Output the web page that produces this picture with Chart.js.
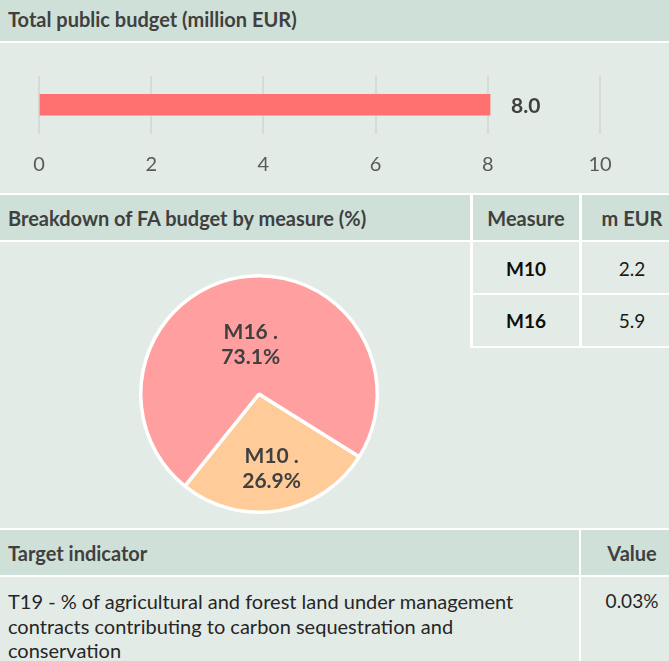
<!DOCTYPE html>
<html>
<head>
<meta charset="utf-8">
<script src="https://cdn.jsdelivr.net/npm/chart.js@4.4.0/dist/chart.umd.min.js"></script>
<style>
  body { margin: 0; width: 669px; height: 661px; overflow: hidden; background: #fff; position: relative; font-family: Lato, sans-serif; }
  .box { position: absolute; box-sizing: border-box; }
  .head { background: #cfe0d8; color: #404040; font-weight: bold; font-size: 20px; display: flex; align-items: center; }
  .panel { background: #e3ebe7; }
  .line { position: absolute; background: #fff; }
  .cell { position: absolute; display: flex; align-items: center; justify-content: center; font-size: 19px; color: #1a1a1a; }
  .left { padding-left: 8px; }
  .mid { justify-content: center; }
  canvas { position: absolute; }
</style>
</head>
<body>

<div class="box head left" style="left:0;top:0;width:669px;height:41px;padding-bottom:3px">Total public budget (million EUR)</div>
<div class="box panel" style="left:0;top:43px;width:669px;height:150px"></div>
<canvas id="budgetChart" width="669" height="150" style="left:0;top:43px;width:669px;height:150px"></canvas>

<div class="box head left" style="left:0;top:195px;width:470px;height:45px">Breakdown of FA budget by measure (%)</div>
<div class="box head mid" style="left:473px;top:195px;width:106px;height:45px">Measure</div>
<div class="box head mid" style="left:582px;top:195px;width:100px;height:45px">m EUR</div>
<div class="box panel" style="left:0;top:242px;width:669px;height:286px"></div>
<div id="measureTable"></div>
<canvas id="measureChart" width="250" height="250" style="left:134px;top:269px;width:250px;height:250px"></canvas>

<div class="box head left" style="left:0;top:530px;width:579px;height:45px">Target indicator</div>
<div class="box head mid" style="left:581px;top:530px;width:102px;height:45px">Value</div>
<div class="box panel" style="left:0;top:577px;width:669px;height:84px"></div>
<div class="line" style="left:579px;top:577px;width:2px;height:84px"></div>
<div id="indicatorText" class="box" style="left:8px;top:589px;width:570px;font-size:20px;line-height:24.5px;color:#262626"></div>
<div id="indicatorValue" class="box" style="left:582px;top:589px;width:100px;font-size:19px;line-height:24.5px;color:#262626;text-align:center"></div>

<script>
// values
const totalLabel = ['Total'];
const totalBudget = [8.04];
const axisTicks = [0, 2, 4, 6, 8, 10];

const measures = ['M10', 'M16'];
const measureShare = [26.9, 73.1];
const measureMeur = [2.2, 5.9];
const measureColors = ['#ffcc99', '#ff9f9f'];

const indicatorLines = [
  'T19 - % of agricultural and forest land under management',
  'contracts contributing to carbon sequestration and',
  'conservation'
];
const indicatorValue = '0.03%';

// small table next to the pie
const table = document.getElementById('measureTable');
const rowTops = [243, 295];
let html = '';
measures.forEach((m, i) => {
  html += '<div class="cell" style="left:473px;top:' + rowTops[i] + 'px;width:106px;height:50px;font-weight:bold;color:#0d0d0d">' + m + '</div>';
  html += '<div class="cell" style="left:582px;top:' + rowTops[i] + 'px;width:100px;height:50px">' + measureMeur[i].toFixed(1) + '</div>';
});
html += '<div class="line" style="left:470px;top:242px;width:3px;height:106px"></div>';
html += '<div class="line" style="left:579px;top:242px;width:3px;height:106px"></div>';
html += '<div class="line" style="left:470px;top:293px;width:199px;height:2px"></div>';
html += '<div class="line" style="left:470px;top:346px;width:199px;height:2px"></div>';
table.innerHTML = html;

document.getElementById('indicatorText').innerHTML = indicatorLines.join('<br>');
document.getElementById('indicatorValue').textContent = indicatorValue;

// value at the end of the bar
const barValueLabel = {
  id: 'barValueLabel',
  afterDatasetsDraw(chart) {
    const ctx = chart.ctx;
    ctx.save();
    ctx.font = 'bold 21px Lato';
    ctx.fillStyle = '#404040';
    ctx.textAlign = 'left';
    ctx.textBaseline = 'middle';
    chart.getDatasetMeta(0).data.forEach((bar, i) => {
      ctx.fillText(totalBudget[i].toFixed(1), bar.x + 21, bar.y + 1);
    });
    ctx.restore();
  }
};

new Chart(document.getElementById('budgetChart'), {
  type: 'bar',
  data: {
    labels: totalLabel,
    datasets: [{
      data: totalBudget,
      backgroundColor: '#ff7070',
      barThickness: 21
    }]
  },
  options: {
    indexAxis: 'y',
    responsive: false,
    animation: false,
    layout: { padding: { left: 39, right: 69, top: 33, bottom: 2 } },
    plugins: { legend: { display: false }, tooltip: { enabled: false } },
    scales: {
      x: {
        min: axisTicks[0],
        max: axisTicks[axisTicks.length - 1],
        ticks: { stepSize: axisTicks[1] - axisTicks[0], color: '#595959', font: { family: 'Lato', size: 20 }, padding: 19 },
        grid: { color: '#d9d9d9', lineWidth: 2, drawTicks: false },
        border: { display: false }
      },
      y: { display: false }
    }
  },
  plugins: [barValueLabel]
});

// labels inside the slices
const sliceLabels = {
  id: 'sliceLabels',
  afterDatasetsDraw(chart, args, opts) {
    const ctx = chart.ctx;
    ctx.save();
    ctx.font = 'bold 21px Lato';
    ctx.fillStyle = '#404040';
    ctx.textAlign = 'center';
    ctx.textBaseline = 'middle';
    chart.getDatasetMeta(0).data.forEach((arc, i) => {
      const mid = (arc.startAngle + arc.endAngle) / 2;
      const r = arc.outerRadius * opts.radius[i];
      const x = arc.x + Math.cos(mid) * r;
      const y = arc.y + Math.sin(mid) * r;
      ctx.fillText(measures[i] + ' .', x, y - 12.5);
      ctx.fillText(measureShare[i].toFixed(1) + '%', x, y + 12.5);
    });
    ctx.restore();
  }
};

new Chart(document.getElementById('measureChart'), {
  type: 'pie',
  data: {
    labels: measures,
    datasets: [{
      data: measureShare,
      backgroundColor: measureColors,
      borderColor: '#ffffff',
      borderWidth: 3.5
    }]
  },
  options: {
    responsive: false,
    animation: false,
    rotation: 122,
    layout: { padding: 5 },
    plugins: {
      legend: { display: false },
      tooltip: { enabled: false },
      sliceLabels: { radius: [0.64, 0.42] }
    }
  },
  plugins: [sliceLabels]
});
</script>
</body>
</html>
